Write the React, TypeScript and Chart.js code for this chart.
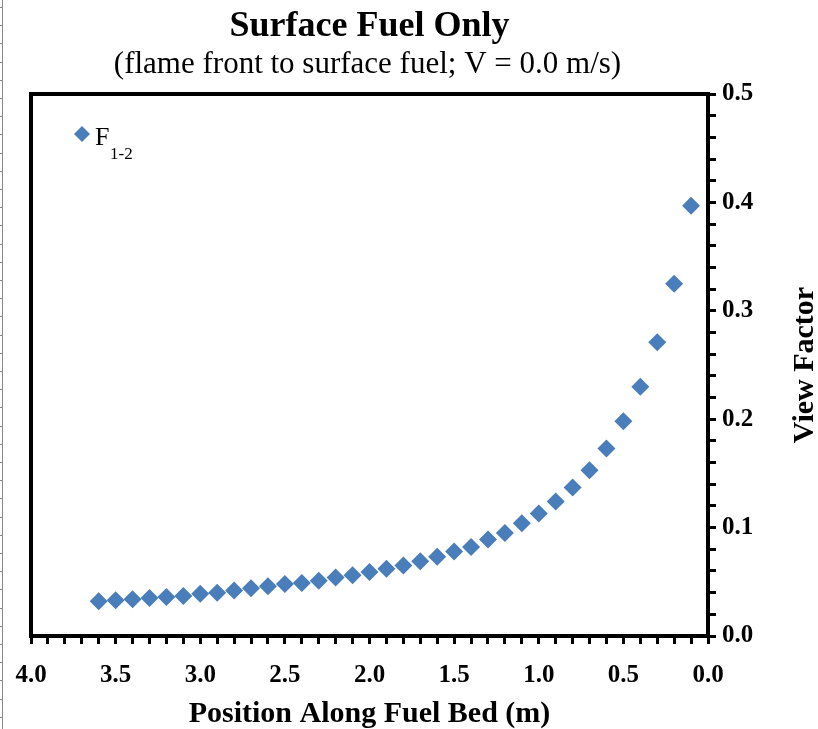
import React, { useEffect, useRef } from 'react';
import { Chart, registerables } from 'chart.js';

Chart.register(...registerables);

// Position along the fuel bed (m), measured back from the flame front
const positions = [
  3.6, 3.5, 3.4, 3.3, 3.2, 3.1, 3.0, 2.9, 2.8, 2.7, 2.6, 2.5,
  2.4, 2.3, 2.2, 2.1, 2.0, 1.9, 1.8, 1.7, 1.6, 1.5, 1.4, 1.3,
  1.2, 1.1, 1.0, 0.9, 0.8, 0.7, 0.6, 0.5, 0.4, 0.3, 0.2, 0.1,
];

// View factor F(1-2) from the flame front to the surface fuel
const viewFactor = [
  0.032, 0.033, 0.034, 0.035, 0.036, 0.037, 0.039, 0.040, 0.042, 0.044, 0.046, 0.048,
  0.049, 0.051, 0.054, 0.056, 0.059, 0.062, 0.065, 0.069, 0.073, 0.078, 0.082, 0.089,
  0.095, 0.104, 0.113, 0.124, 0.137, 0.153, 0.173, 0.198, 0.230, 0.271, 0.325, 0.397,
];

const xTickLabels = ['4.0', '3.5', '3.0', '2.5', '2.0', '1.5', '1.0', '0.5', '0.0'];
const yTickLabels = ['0.0', '0.1', '0.2', '0.3', '0.4', '0.5'];

const TITLE = 'Surface Fuel Only';
const SUBTITLE = '(flame front to surface fuel; V = 0.0 m/s)';
const X_TITLE = 'Position Along Fuel Bed (m)';
const Y_TITLE = 'View Factor';
const SERIES_COLOR = '#4A7EBB';
const SERIF = '"Liberation Serif", "Times New Roman", serif';

function labelFor(labels: string[], value: number): string {
  const hit = labels.find((l) => Math.abs(parseFloat(l) - value) < 1e-6);
  return hit === undefined ? '' : hit;
}

function evenTicks(min: number, max: number, step: number) {
  const n = Math.round((max - min) / step);
  const out: { value: number }[] = [];
  for (let i = 0; i <= n; i++) out.push({ value: +(min + i * step).toFixed(4) });
  return out;
}

// Frame, titles, rotated y title, legend with subscript, page ruler edge
const decorPlugin = {
  id: 'decor',
  beforeDraw(chart: any) {
    const { ctx, width, height } = chart;
    ctx.save();
    ctx.fillStyle = '#ffffff';
    ctx.fillRect(0, 0, width, height);
    // thin ruler strip along the left edge
    ctx.strokeStyle = '#8a8a8a';
    ctx.lineWidth = 1;
    ctx.beginPath();
    ctx.moveTo(2.5, 0);
    ctx.lineTo(2.5, height);
    for (let y = 7; y < height; y += 18.2) {
      ctx.moveTo(0, Math.round(y) + 0.5);
      ctx.lineTo(3, Math.round(y) + 0.5);
    }
    ctx.stroke();
    ctx.restore();
  },
  afterDraw(chart: any) {
    const { ctx, chartArea: a } = chart;
    const cx = (a.left + a.right) / 2;
    ctx.save();

    // plot frame
    ctx.strokeStyle = '#000';
    ctx.lineWidth = 4;
    ctx.strokeRect(a.left, a.top, a.right - a.left, a.bottom - a.top);

    // titles
    ctx.fillStyle = '#000';
    ctx.textAlign = 'center';
    ctx.textBaseline = 'alphabetic';
    ctx.font = `bold 36px ${SERIF}`;
    ctx.fillText(TITLE, cx, a.top - 58);
    ctx.font = `31px ${SERIF}`;
    ctx.fillText(SUBTITLE, cx - 2, a.top - 21);

    // y axis title, reading bottom to top
    ctx.save();
    ctx.translate(a.right + 97, (a.top + a.bottom) / 2);
    ctx.rotate(-Math.PI / 2);
    ctx.textBaseline = 'middle';
    ctx.font = `bold 30px ${SERIF}`;
    ctx.fillText(Y_TITLE, 0, 0);
    ctx.restore();

    // legend: diamond marker, F with subscript 1-2
    const lx = a.left + 51;
    const ly = a.top + 40;
    const r = 8;
    ctx.fillStyle = SERIES_COLOR;
    ctx.beginPath();
    ctx.moveTo(lx - r, ly);
    ctx.lineTo(lx, ly - r);
    ctx.lineTo(lx + r, ly);
    ctx.lineTo(lx, ly + r);
    ctx.closePath();
    ctx.fill();
    ctx.fillStyle = '#000';
    ctx.textAlign = 'left';
    ctx.textBaseline = 'alphabetic';
    ctx.font = `26px ${SERIF}`;
    ctx.fillText('F', lx + 13, ly + 11);
    ctx.font = `17px ${SERIF}`;
    ctx.fillText('1-2', lx + 28, ly + 25);

    ctx.restore();
  },
};

export default function App() {
  const canvasRef = useRef<HTMLCanvasElement | null>(null);

  useEffect(() => {
    const canvas = canvasRef.current;
    if (!canvas) return;

    const tickFont = { family: SERIF, size: 25, weight: 'bold' as const };

    const chart = new Chart(canvas, {
      type: 'scatter',
      data: {
        datasets: [
          {
            label: 'F1-2',
            data: positions.map((x, i) => ({ x, y: viewFactor[i] })),
            pointStyle: 'rectRot',
            pointRadius: 9,
            pointHoverRadius: 9,
            pointBorderWidth: 0,
            backgroundColor: SERIES_COLOR,
            borderColor: SERIES_COLOR,
            showLine: false,
          },
        ],
      },
      options: {
        animation: false,
        responsive: false,
        devicePixelRatio: 1,
        events: [],
        layout: { padding: { top: 94, left: 31, right: 0, bottom: 0 } },
        plugins: {
          legend: { display: false },
          title: { display: false },
          tooltip: { enabled: false },
        },
        scales: {
          x: {
            type: 'linear',
            position: 'bottom',
            reverse: true,
            min: 0,
            max: 4,
            afterBuildTicks: (scale: any) => {
              scale.ticks = evenTicks(0, 4, 0.1);
            },
            afterFit: (scale: any) => {
              scale.height = 93;
            },
            border: { display: true, color: '#000', width: 4 },
            grid: {
              display: true,
              drawOnChartArea: false,
              drawTicks: true,
              tickLength: 8,
              lineWidth: 3,
              color: '#000',
            },
            ticks: {
              autoSkip: false,
              maxRotation: 0,
              minRotation: 0,
              padding: 17,
              color: '#000',
              font: tickFont,
              callback: (v: any) => labelFor(xTickLabels, Number(v)),
            },
            title: {
              display: true,
              text: X_TITLE,
              color: '#000',
              font: { family: SERIF, size: 30, weight: 'bold', lineHeight: 1 },
              padding: { top: 0, bottom: 0 },
            },
          },
          y: {
            type: 'linear',
            position: 'right',
            min: 0,
            max: 0.5,
            afterBuildTicks: (scale: any) => {
              scale.ticks = evenTicks(0, 0.5, 0.02);
            },
            afterFit: (scale: any) => {
              scale.width = 110;
            },
            border: { display: true, color: '#000', width: 4 },
            grid: {
              display: true,
              drawOnChartArea: false,
              drawTicks: true,
              tickLength: 8,
              lineWidth: 3,
              color: '#000',
            },
            ticks: {
              autoSkip: false,
              padding: 6,
              color: '#000',
              font: tickFont,
              callback: (v: any) => labelFor(yTickLabels, Number(v)),
            },
            title: { display: false },
          },
        },
      },
      plugins: [decorPlugin],
    });

    return () => chart.destroy();
  }, []);

  return (
    <div style={{ position: 'absolute', left: 0, top: 0, width: 818, height: 729, background: '#fff' }}>
      <canvas ref={canvasRef} width={818} height={729} style={{ display: 'block', width: 818, height: 729 }} />
    </div>
  );
}
